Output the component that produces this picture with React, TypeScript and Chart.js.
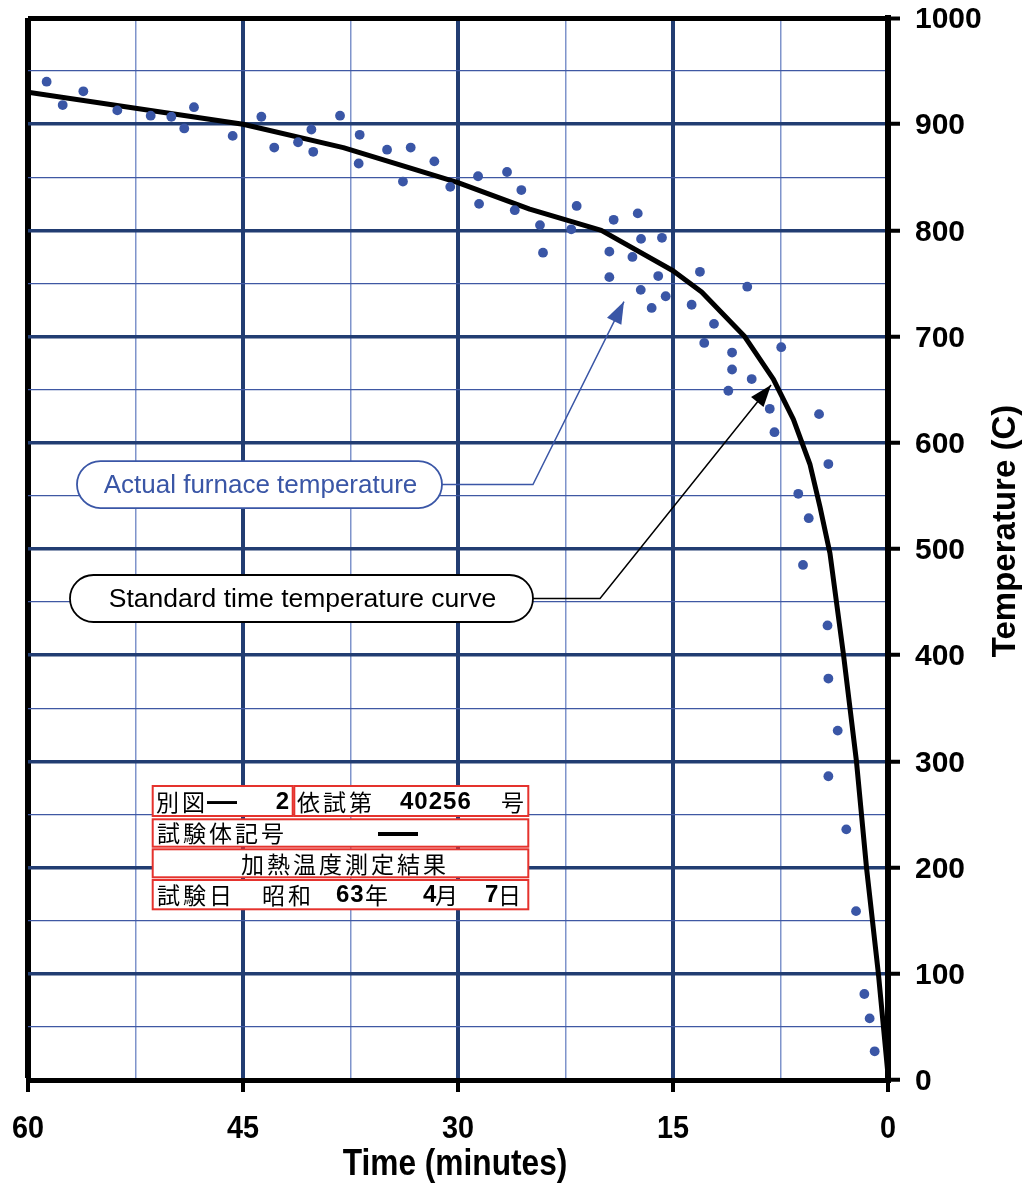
import React, { useEffect, useRef } from 'react';
import { Chart, registerables } from 'chart.js';

Chart.register(...registerables);

// Standard time-temperature curve (minutes, °C)
const curveTime = [0, 0.67, 1.5, 2.2, 3.1, 4.05, 4.75, 5.45, 6.6, 8, 10, 13, 15, 20, 25, 30, 38, 45, 60];
const curveTemp = [5, 100, 200, 300, 400, 496, 540, 580, 622, 660, 700, 742, 762, 800, 820, 845, 878, 900, 930];

// Actual furnace temperature readings (minutes, °C)
const actualTime = [
  58.7, 57.58, 56.14, 53.77, 51.44, 50.0, 49.1, 48.42, 45.72, 43.72,
  42.82, 41.16, 40.23, 40.1, 38.23, 36.86, 36.93, 34.95, 33.3, 33.84,
  31.65, 30.54, 28.6, 28.53, 26.58, 25.58, 26.04, 24.28, 24.07, 21.72,
  22.1, 19.14, 19.44, 19.44, 17.46, 17.83, 17.23, 17.25, 15.77, 16.03,
  15.51, 16.49, 13.12, 9.82, 13.7, 12.14, 12.82, 10.88, 10.88, 9.51,
  11.14, 7.45, 8.25, 7.92, 4.81, 4.16, 6.26, 5.53, 5.93, 4.22,
  4.16, 3.51, 4.16, 2.91, 2.23, 1.65, 1.28, 0.93,
];
const actualTemp = [
  940, 918, 931, 913, 908, 907, 896, 916, 889, 907,
  878, 883, 895, 874, 908, 890, 863, 876, 878, 846,
  865, 841, 851, 825, 855, 838, 819, 805, 779, 823,
  801, 810, 780, 756, 816, 775, 792, 744, 793, 757,
  738, 727, 761, 747, 730, 712, 694, 685, 669, 660,
  649, 690, 632, 610, 627, 580, 552, 529, 485, 428,
  378, 329, 286, 236, 159, 81, 58, 27,
];

const xTickLabels = [60, 45, 30, 15, 0];
const xTitle = 'Time (minutes)';
const yTitle = 'Temperature (C)';

// Callouts: label, pill centre (data), arrow knee (data), arrow tip (data)
const calloutLabels = ['Actual furnace temperature', 'Standard time temperature curve'];
const calloutCenterT = [43.85, 40.92];
const calloutCenterV = [560.7, 453.4];
const calloutKneeT = [24.77, 20.09];
const calloutTipT = [18.42, 8.16];
const calloutTipV = [733, 654.5];

const NAVY = '#223d72';
const BLUE_DOT = '#3a56a6';

function drawArrowHead(ctx: CanvasRenderingContext2D, fx: number, fy: number, tx: number, ty: number, color: string) {
  const ang = Math.atan2(ty - fy, tx - fx);
  const len = 22;
  const half = 8;
  const bx = tx - len * Math.cos(ang);
  const by = ty - len * Math.sin(ang);
  ctx.beginPath();
  ctx.moveTo(tx, ty);
  ctx.lineTo(bx + half * Math.sin(ang), by - half * Math.cos(ang));
  ctx.lineTo(bx - half * Math.sin(ang), by + half * Math.cos(ang));
  ctx.closePath();
  ctx.fillStyle = color;
  ctx.fill();
}

const overlayPlugin = {
  id: 'overlay',
  afterDraw(chart: any) {
    const ctx: CanvasRenderingContext2D = chart.ctx;
    const xs = chart.scales.x;
    const ys = chart.scales.y;
    const ca = chart.chartArea;
    ctx.save();

    // X tick labels (condensed bold)
    ctx.fillStyle = '#000';
    ctx.font = 'bold 31px "Liberation Sans", Arial, sans-serif';
    ctx.textAlign = 'center';
    ctx.textBaseline = 'middle';
    xTickLabels.forEach((v) => {
      const px = xs.getPixelForValue(v);
      ctx.save();
      ctx.translate(px, ca.bottom + 49);
      ctx.scale(0.93, 1);
      ctx.fillText(String(v), 0, 0);
      ctx.restore();
    });
    // X title
    ctx.save();
    ctx.font = 'bold 36px "Liberation Sans", Arial, sans-serif';
    ctx.textBaseline = 'alphabetic';
    ctx.translate((ca.left + ca.right) / 2 - 3, ca.bottom + 95);
    ctx.scale(0.88, 1);
    ctx.fillText(xTitle, 0, 0);
    ctx.restore();
    // Y title (reads bottom to top)
    ctx.save();
    ctx.font = 'bold 33px "Liberation Sans", Arial, sans-serif';
    ctx.textBaseline = 'alphabetic';
    ctx.textAlign = 'center';
    ctx.translate(1015, 531);
    ctx.rotate(-Math.PI / 2);
    ctx.fillText(yTitle, 0, 0);
    ctx.restore();

    // Callouts
    const colors = ['#3a56a6', '#000000'];
    const widths = [365, 463];
    const fonts = [26, 26.5];
    calloutLabels.forEach((label, i) => {
      const cx = xs.getPixelForValue(calloutCenterT[i]);
      const cy = ys.getPixelForValue(calloutCenterV[i]);
      const w = widths[i];
      const h = 47;
      const left = cx - w / 2;
      const right = cx + w / 2;
      const kx = xs.getPixelForValue(calloutKneeT[i]);
      const tx = xs.getPixelForValue(calloutTipT[i]);
      const ty = ys.getPixelForValue(calloutTipV[i]);
      ctx.strokeStyle = colors[i];
      ctx.lineWidth = 1.5;
      ctx.beginPath();
      ctx.moveTo(right, cy);
      ctx.lineTo(kx, cy);
      ctx.lineTo(tx, ty);
      ctx.stroke();
      drawArrowHead(ctx, kx, cy, tx, ty, colors[i]);
      ctx.beginPath();
      (ctx as any).roundRect(left, cy - h / 2, w, h, h / 2);
      ctx.fillStyle = '#fff';
      ctx.fill();
      ctx.lineWidth = 1.8;
      ctx.stroke();
      ctx.fillStyle = colors[i];
      ctx.font = `${fonts[i]}px "Liberation Sans", Arial, sans-serif`;
      ctx.textAlign = 'center';
      ctx.textBaseline = 'middle';
      ctx.fillText(label, cx + 1, cy + 1);
    });

    // Info table
    const red = '#e5322d';
    const L = 152.7, R = 528.3;
    const rows = [[786, 816], [819.3, 846.7], [849.3, 877.3], [880, 909.3]];
    ctx.lineWidth = 2;
    ctx.strokeStyle = red;
    const boxes = [
      [L, rows[0][0], 292.7, rows[0][1]],
      [294.3, rows[0][0], R, rows[0][1]],
      [L, rows[1][0], R, rows[1][1]],
      [L, rows[2][0], R, rows[2][1]],
      [L, rows[3][0], R, rows[3][1]],
    ];
    boxes.forEach(([x0, y0, x1, y1]) => {
      ctx.fillStyle = '#fff';
      ctx.fillRect(x0, y0, x1 - x0, y1 - y0);
      ctx.strokeRect(x0, y0, x1 - x0, y1 - y0);
    });
    const cjk = '23px "Noto Sans CJK JP", sans-serif';
    const num = 'bold 24px "Liberation Sans", Arial, sans-serif';
    const put = (text: string, x: number, yy: number, font: string, align: CanvasTextAlign = 'left', spacing = '3px') => {
      ctx.font = font;
      (ctx as any).letterSpacing = spacing;
      ctx.textAlign = align;
      ctx.textBaseline = 'middle';
      ctx.fillStyle = '#000';
      ctx.fillText(text, x, yy);
    };
    const r1 = 802, r2 = 833, r3 = 864, r4 = 895;
    put('別図', 156, r1, cjk);
    put('—', 222, r1 + 1, 'bold 30px "Liberation Sans", Arial, sans-serif', 'center', '0px');
    put('2', 289, r1, num, 'right', '0px');
    put('依試第', 297, r1, cjk);
    put('40256', 400, r1, num, 'left', '1px');
    put('号', 501, r1, cjk);
    put('試験体記号', 157, r2, cjk);
    put('—', 398, r2 + 1, 'bold 40px "Liberation Sans", Arial, sans-serif', 'center', '0px');
    put('加熱温度測定結果', 345, r3, cjk, 'center');
    put('試験日', 157, r4, cjk);
    put('昭和', 262, r4, cjk);
    put('63', 336, r4, num, 'left', '1px');
    put('年', 365, r4, cjk);
    put('4', 423, r4, num, 'left', '0px');
    put('月', 435, r4, cjk);
    put('7', 485, r4, num, 'left', '0px');
    put('日', 498, r4, cjk);
    (ctx as any).letterSpacing = '0px';

    ctx.restore();
  },
};

export default function App() {
  const ref = useRef<HTMLCanvasElement | null>(null);

  useEffect(() => {
    if (!ref.current) return;
    const curve = curveTime.map((t, i) => ({ x: t, y: curveTemp[i] }));
    const actual = actualTime.map((t, i) => ({ x: t, y: actualTemp[i] }));
    const chart = new Chart(ref.current, {
      type: 'scatter',
      data: {
        datasets: [
          {
            label: 'Standard time temperature curve',
            data: curve,
            showLine: true,
            borderColor: '#000',
            borderWidth: 5,
            pointRadius: 0,
            tension: 0,
            borderJoinStyle: 'round',
            order: 2,
          },
          {
            label: 'Actual furnace temperature',
            data: actual,
            showLine: false,
            pointRadius: 4.9,
            pointBackgroundColor: BLUE_DOT,
            pointBorderWidth: 0,
            order: 1,
          },
        ],
      },
      options: {
        responsive: false,
        animation: false,
        devicePixelRatio: 1,
        layout: { padding: { left: 28, top: 18, right: 0, bottom: 0 } },
        plugins: { legend: { display: false }, tooltip: { enabled: false } },
        scales: {
          x: {
            type: 'linear',
            reverse: true,
            min: 0,
            max: 60,
            afterFit: (s: any) => { s.height = 112; s.paddingLeft = 0; s.paddingRight = 0; },
            ticks: { stepSize: 7.5, display: false, autoSkip: false },
            border: { display: true, color: '#000', width: 5 },
            grid: {
              color: (c: any) => (c.tick.value === 60 ? '#000' : c.tick.value % 15 === 0 ? NAVY : '#7f94cb'),
              lineWidth: (c: any) => (c.tick.value === 60 ? 6 : c.tick.value % 15 === 0 ? 4 : 1.5),
              tickColor: (c: any) => (c.tick.value % 15 === 0 ? '#000' : 'rgba(0,0,0,0)'),
              tickWidth: 4,
              tickLength: 12,
              drawTicks: true,
            },
          },
          y: {
            type: 'linear',
            position: 'right',
            min: 0,
            max: 1000,
            afterFit: (s: any) => { s.width = 134; s.paddingTop = 0; s.paddingBottom = 0; },
            ticks: {
              stepSize: 50,
              autoSkip: false,
              padding: 15,
              labelOffset: 2,
              color: '#000',
              font: { family: '"Liberation Sans", Arial, sans-serif', size: 30, weight: 'bold' },
              callback: (v: any) => (Number(v) % 100 === 0 ? String(v) : ''),
            },
            border: { display: true, color: '#000', width: 6 },
            grid: {
              color: (c: any) => (c.tick.value === 1000 ? '#000' : c.tick.value % 100 === 0 ? NAVY : '#3f58a3'),
              lineWidth: (c: any) => (c.tick.value === 1000 ? 5 : c.tick.value % 100 === 0 ? 3.5 : 1.3),
              tickColor: (c: any) => (c.tick.value % 100 === 0 ? '#000' : 'rgba(0,0,0,0)'),
              tickWidth: 4,
              tickLength: 12,
              drawTicks: true,
            },
          },
        },
      } as any,
      plugins: [overlayPlugin],
    });
    return () => chart.destroy();
  }, []);

  return (
    <div style={{ position: 'absolute', left: 0, top: 0, width: 1022, height: 1192 }}>
      <canvas ref={ref} width={1022} height={1192} style={{ display: 'block' }} />
    </div>
  );
}
